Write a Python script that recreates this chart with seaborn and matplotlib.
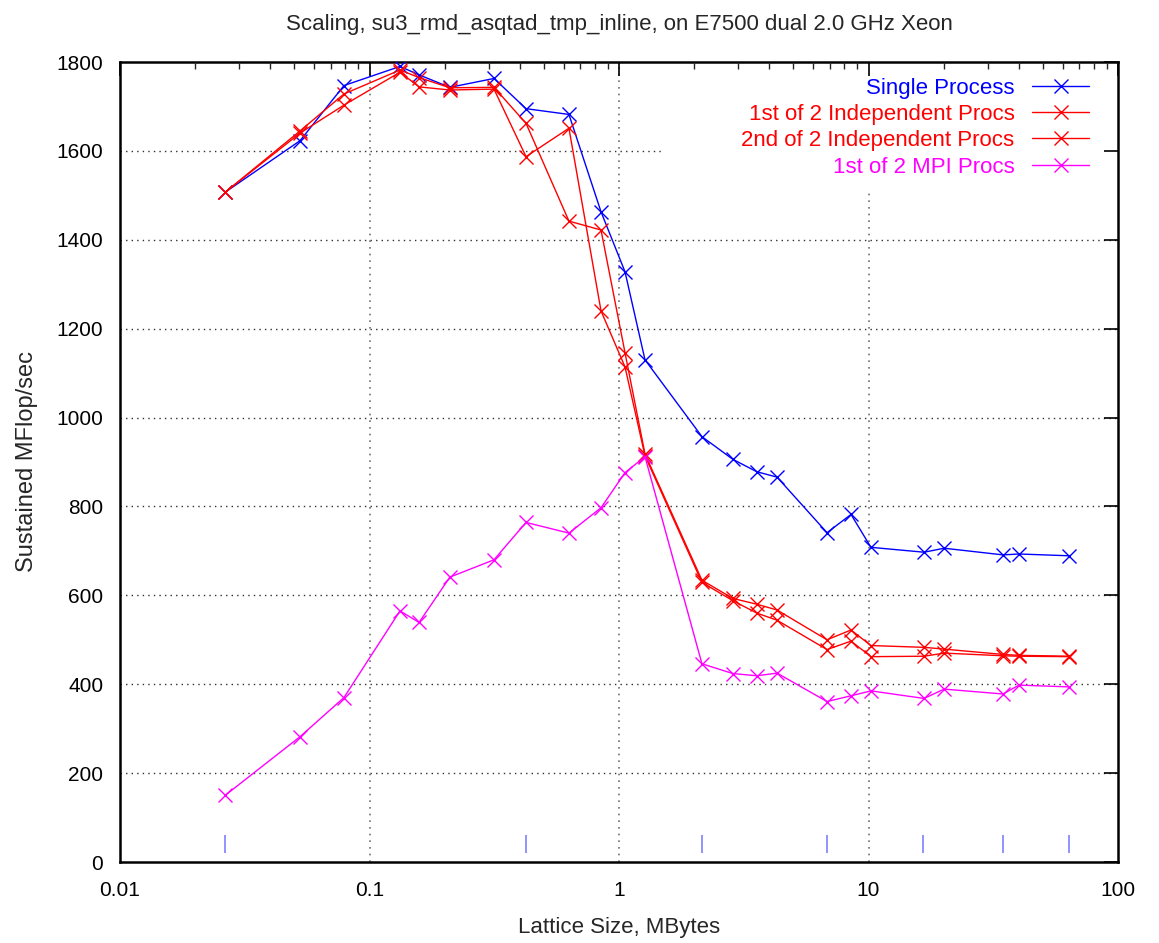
import numpy as np
import pandas as pd
import matplotlib
matplotlib.use("Agg")
import matplotlib.pyplot as plt
import matplotlib.patches as mpatches
import seaborn as sns
from matplotlib.ticker import LogLocator, FixedLocator, NullFormatter

# ---- data ----
size_mb = [0.0264, 0.0527, 0.0790, 0.1325, 0.158, 0.210, 0.3155, 0.424, 0.630,
           0.847, 1.057, 1.271, 2.15, 2.86, 3.57, 4.30, 6.82, 8.51, 10.23,
           16.7, 20.1, 34.6, 40.1, 63.6]
single = [1507, 1623, 1747, 1790, 1771, 1743, 1763, 1695, 1682, 1463, 1328, 1130,
          957, 906, 878, 866, 741, 782, 708, 697, 706, 691, 693, 689]
indep1 = [1507, 1645, 1728, 1782, 1765, 1742, 1743, 1662, 1442, 1422, 1146, 918,
          634, 593, 580, 567, 500, 522, 487, 483, 479, 467, 465, 463]
indep2 = [1507, 1640, 1703, 1777, 1744, 1737, 1739, 1587, 1651, 1240, 1114, 914,
          629, 588, 560, 544, 478, 497, 462, 463, 470, 464, 463, 462]
mpi1 = [150, 282, 370, 565, 539, 641, 680, 764, 740, 797, 876, 912,
        446, 424, 419, 425, 361, 374, 385, 368, 389, 378, 398, 394]
series_names = ["Single Process", "1st of 2 Independent Procs",
                "2nd of 2 Independent Procs", "1st of 2 MPI Procs"]
series_colors = ["#0000ff", "#ff0000", "#ff0000", "#ff00ff"]

# hypercubic lattice markers along the bottom
cube_sizes = [0.0264, 0.424, 2.15, 6.82, 16.5, 34.6, 63.6]
cube_low = 20
cube_high = 60

title = "Scaling, su3_rmd_asqtad_tmp_inline, on E7500 dual 2.0 GHz Xeon"
xlabel = "Lattice Size, MBytes"
ylabel = "Sustained MFlop/sec"
xticks = [0.01, 0.1, 1, 10, 100]
xticklabels = ["0.01", "0.1", "1", "10", "100"]
yticks = [0, 200, 400, 600, 800, 1000, 1200, 1400, 1600, 1800]

# ---- styling ----
sns.set_style("white")
plt.rcParams['font.family'] = ['Liberation Sans', 'DejaVu Sans']
plt.rcParams['xtick.direction'] = 'in'
plt.rcParams['ytick.direction'] = 'in'

fig = plt.figure(figsize=(11.59, 9.43), dpi=100)
ax = fig.add_axes([120/1159, 1-862/943, (1118-120)/1159, (862-62)/943])

df = pd.DataFrame({"size": size_mb * 4,
                   "mflops": single + indep1 + indep2 + mpi1,
                   "series": sum([[n] * len(size_mb) for n in series_names], [])})

for name, col in zip(series_names, series_colors):
    sub = df[df["series"] == name]
    sns.lineplot(data=sub, x="size", y="mflops", ax=ax, color=col, label=name,
                 marker="x", markersize=10, markeredgewidth=1.0, linewidth=1.0,
                 markeredgecolor=col, estimator=None, sort=False, zorder=3)

ax.vlines(cube_sizes, cube_low, cube_high, colors="#8080ff", linewidth=1.2, zorder=1)

ax.set_xscale("log")
ax.set_xlim(0.01, 100)
ax.set_ylim(0, 1800)
ax.xaxis.set_major_locator(FixedLocator(xticks))
ax.set_xticklabels(xticklabels)
ax.xaxis.set_minor_locator(LogLocator(base=10, subs=np.arange(2, 10)))
ax.xaxis.set_minor_formatter(NullFormatter())
ax.set_yticks(yticks)

ax.tick_params(axis="both", which="major", direction="in", length=10, width=1.2,
               top=True, right=True, labelsize=15, colors="black")
ax.tick_params(axis="x", which="major", pad=14)
ax.tick_params(axis="y", which="major", pad=12)
ax.tick_params(axis="both", which="minor", direction="in", length=5, width=1.0,
               top=True, right=True)
for s in ax.spines.values():
    s.set_linewidth(1.8)
    s.set_color("black")

# dotted grid at the major ticks, kept below the key and the tick marks
ax.grid(False)
for yv in yticks[1:-1]:
    ax.axhline(yv, color="#303030", linestyle=(0, (1, 3)), linewidth=1.0, zorder=0.6)
for xv in xticks[1:-1]:
    ax.axvline(xv, color="#707070", linestyle=(0, (1, 3)), linewidth=1.2, zorder=0.6)
ax.set_axisbelow(False)

# white area cleared behind the key (as gnuplot does)
ax.add_patch(mpatches.Rectangle((0.545, 0.8525), 0.455, 0.1475, transform=ax.transAxes,
                                facecolor="white", edgecolor="none", zorder=1.5))

ax.set_title(title, fontsize=16, pad=23)
ax.set_xlabel(xlabel, fontsize=16, labelpad=12)
ax.set_ylabel(ylabel, fontsize=17, labelpad=13)

leg = ax.legend(loc="upper right", bbox_to_anchor=(0.987, 1.0), markerfirst=False,
                frameon=True, fancybox=False,
                facecolor="white", edgecolor="none", framealpha=1.0,
                fontsize=16, handlelength=2.57, handletextpad=0.8,
                labelspacing=0.24, borderaxespad=0.0, borderpad=0.7)
for t, c in zip(leg.get_texts(), series_colors):
    t.set_color(c)
leg.set_zorder(1.8)

fig.savefig("out.png", dpi=100, facecolor="white")
